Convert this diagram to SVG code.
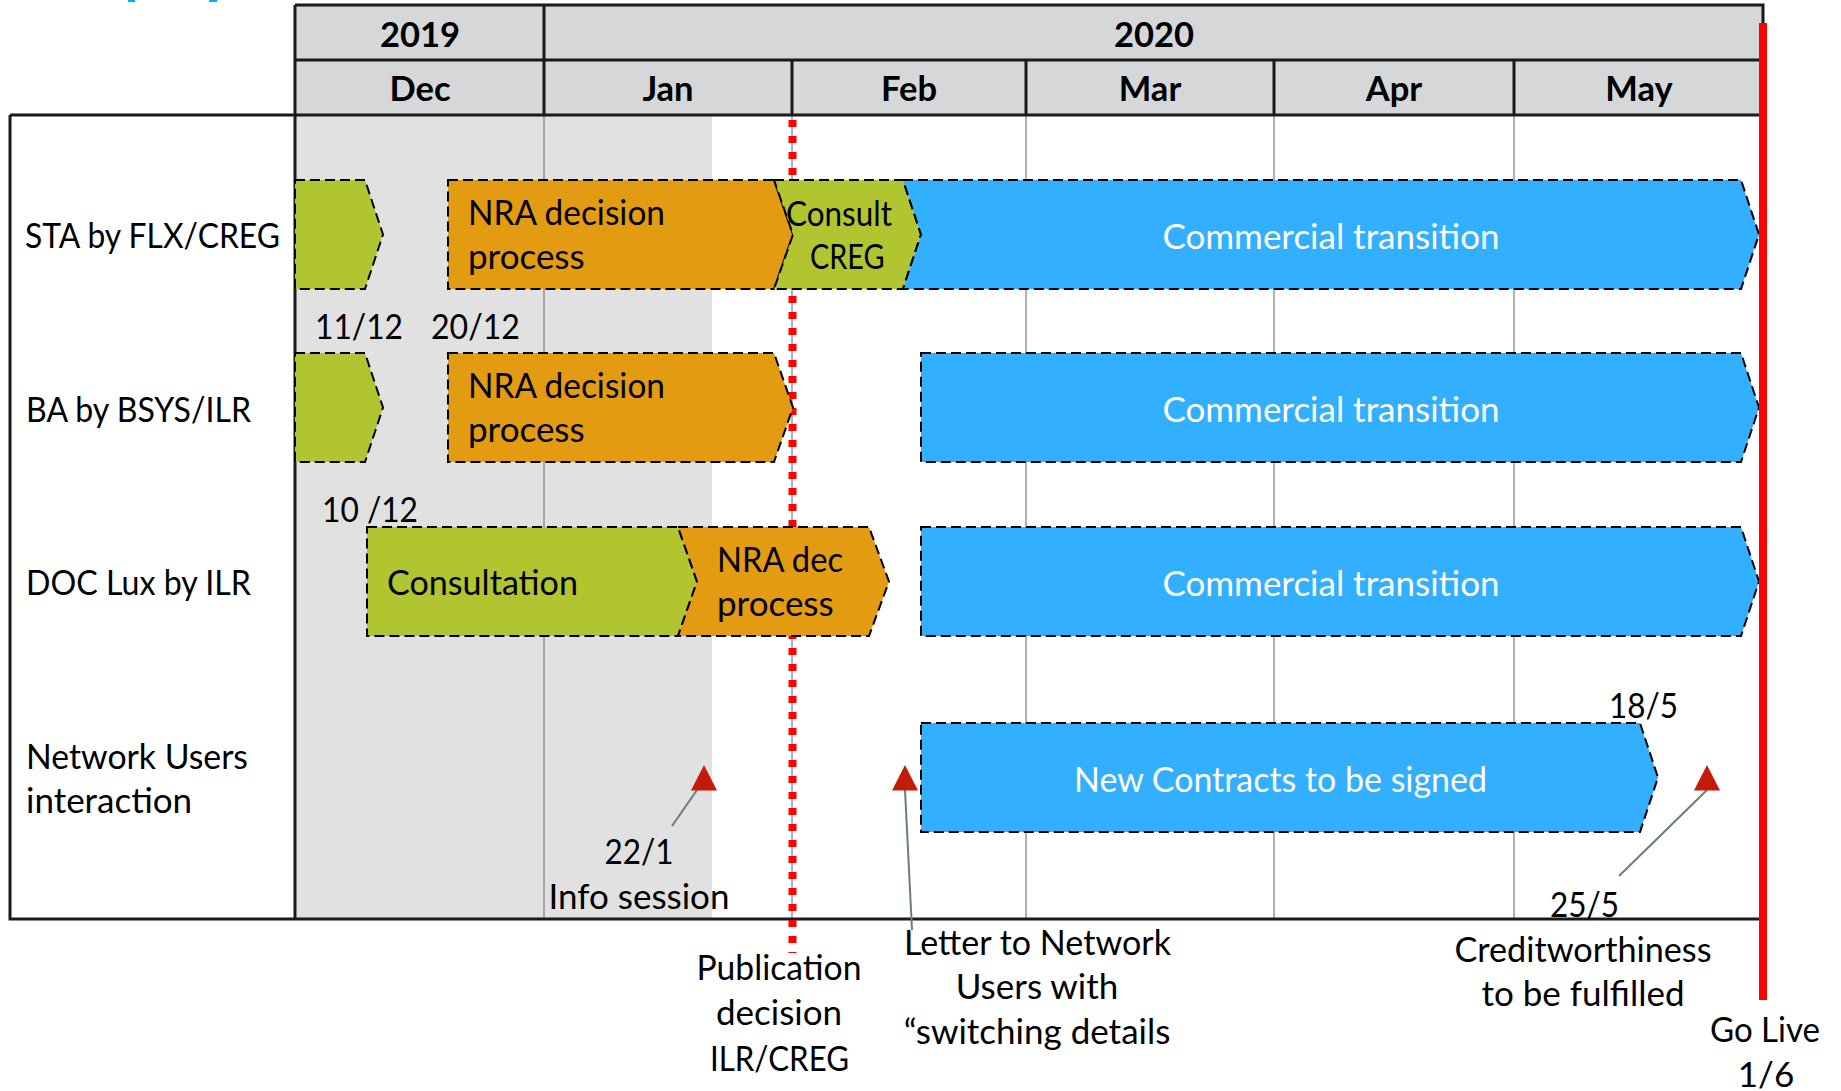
<svg xmlns="http://www.w3.org/2000/svg" width="1841" height="1091" viewBox="0 0 1841 1091">
<style>
text{font-family:Lato,"Liberation Sans",sans-serif;font-size:35px;fill:#000}
.hd{font-weight:bold;text-anchor:middle;font-size:34.5px}
.m{text-anchor:middle}
.w{fill:#fff}
.bar{stroke:#000;stroke-width:2;stroke-dasharray:10 5}
.g{fill:#B0C530}
.o{fill:#E39B12}
.b{fill:#32B0FF}
.grid{stroke:#7f7f7f;stroke-width:1.2}
.frame{stroke:#1a1a1a;stroke-width:3;fill:none}
.lead{stroke:#6B7D78;stroke-width:2}
.tri{fill:#C41A0A}
</style>
<g id="background">
<rect x="0" y="0" width="1841" height="1091" fill="#fff"/>
<rect x="128" y="0" width="7" height="2" fill="#00B0F0"/>
<rect x="209" y="0" width="8" height="2" fill="#00B0F0"/>
<rect x="295" y="115" width="417" height="804" fill="#E1E1E1"/>
</g>
<g id="header">
<rect x="295" y="5" width="1468" height="110" fill="#D6D7D9"/>
<path class="frame" d="M295,5 H1763 V115 M295,60 H1763 M544,5 V115 M792,60 V115 M1026,60 V115 M1274,60 V115 M1514,60 V115"/>
<text class="hd" x="420" y="47">2019</text>
<text class="hd" x="1154" y="47">2020</text>
<text class="hd" x="420" y="101">Dec</text>
<text class="hd" x="668" y="101">Jan</text>
<text class="hd" x="909" y="101">Feb</text>
<text class="hd" x="1150" y="101">Mar</text>
<text class="hd" x="1394" y="101">Apr</text>
<text class="hd" x="1639" y="101">May</text>
</g>
<g id="grid">
<path class="grid" d="M544,115 V919 M792,115 V919 M1026,115 V919 M1274,115 V919 M1514,115 V919"/>
<path class="frame" d="M10,115 H1763 M10,115 V919 H1763 M295,5 V919"/>
</g>
<g id="publication-line">
<line x1="792.5" y1="120" x2="792.5" y2="953" stroke="#FF0000" stroke-width="8" stroke-dasharray="7 9"/>
</g>
<g id="row-labels">
<text x="25" y="247.5" textLength="255" lengthAdjust="spacingAndGlyphs">STA by FLX/CREG</text>
<text x="26" y="421.5" textLength="225" lengthAdjust="spacingAndGlyphs">BA by BSYS/ILR</text>
<text x="26" y="594.5" textLength="225" lengthAdjust="spacingAndGlyphs">DOC Lux by ILR</text>
<text x="26" y="768.5" textLength="222" lengthAdjust="spacingAndGlyphs">Network Users</text>
<text x="26" y="812.5">interaction</text>
</g>
<g id="sta-pre"><path class="bar g" d="M295,180 H365 L383,234.5 L365,289 H295 Z"/></g>
<g id="sta-nra"><path class="bar o" d="M448,180 H774 L793,234.5 L774,289 H448 Z"/>
<text x="468" y="224.5" textLength="197" lengthAdjust="spacingAndGlyphs">NRA decision</text><text x="468" y="268.5">process</text></g>
<g id="sta-consult"><path class="bar g" d="M774,180 H903 L921,234.5 L903,289 H774 L793,234.5 Z"/>
<text x="786" y="225.5" textLength="106" lengthAdjust="spacingAndGlyphs">Consult</text><text x="810" y="268.5" textLength="74.5" lengthAdjust="spacingAndGlyphs">CREG</text></g>
<g id="sta-commercial"><path class="bar b" d="M903,180 H1741 L1759,234.5 L1741,289 H903 L921,234.5 Z"/>
<text class="m w" x="1331" y="248.5">Commercial transition</text></g>
<g id="ba-pre"><path class="bar g" d="M295,353 H365 L383,407.5 L365,462 H295 Z"/></g>
<g id="ba-nra"><path class="bar o" d="M448,353 H774 L793,407.5 L774,462 H448 Z"/>
<text x="468" y="397.5" textLength="197" lengthAdjust="spacingAndGlyphs">NRA decision</text><text x="468" y="441.5">process</text></g>
<g id="ba-commercial"><path class="bar b" d="M921,353 H1741 L1759,407.5 L1741,462 H921 Z"/>
<text class="m w" x="1331" y="421.5">Commercial transition</text></g>
<g id="doc-consultation"><path class="bar g" d="M367,527 H678 L697,581.5 L678,636 H367 Z"/>
<text x="387" y="594.5" textLength="191" lengthAdjust="spacingAndGlyphs">Consultation</text></g>
<g id="doc-nra"><path class="bar o" d="M678,527 H869 L889,581.5 L869,636 H678 L697,581.5 Z"/>
<text x="717" y="571.5" textLength="126" lengthAdjust="spacingAndGlyphs">NRA dec</text><text x="717" y="615.5">process</text></g>
<g id="doc-commercial"><path class="bar b" d="M921,527 H1741 L1759,581.5 L1741,636 H921 Z"/>
<text class="m w" x="1331" y="595.5">Commercial transition</text></g>
<g id="contracts"><path class="bar b" d="M921,723 H1640 L1658,777.5 L1640,832 H921 Z"/>
<text class="w" x="1074" y="791.5" textLength="413" lengthAdjust="spacingAndGlyphs">New Contracts to be signed</text></g>
<g id="dates">
<text x="315" y="338.5" textLength="88" lengthAdjust="spacingAndGlyphs">11/12</text>
<text x="431" y="338.5" textLength="89" lengthAdjust="spacingAndGlyphs">20/12</text>
<text x="322" y="522" textLength="96" lengthAdjust="spacingAndGlyphs">10 /12</text>
<text x="1609" y="718" textLength="69" lengthAdjust="spacingAndGlyphs">18/5</text>
</g>
<g id="connectors">
<line class="lead" x1="697" y1="790" x2="672" y2="826"/>
<line class="lead" x1="905" y1="790" x2="912" y2="930"/>
<line class="lead" x1="1707" y1="790" x2="1619" y2="876"/>
<line x1="1763" y1="23" x2="1763" y2="1000" stroke="#FF0000" stroke-width="8"/>
</g>
<g id="info-session"><path class="tri" d="M704,765 L691,790.5 H717 Z"/>
<text x="604.5" y="863.5" textLength="69" lengthAdjust="spacingAndGlyphs">22/1</text><text class="m" x="639" y="908.5">Info session</text></g>
<g id="letter"><path class="tri" d="M905,765 L892,790.5 H918 Z"/>
<text x="904" y="954.5" textLength="267" lengthAdjust="spacingAndGlyphs">Letter to Network</text><text class="m" x="1037" y="998.5">Users with</text><text class="m" x="1037" y="1043.5">“switching details</text></g>
<g id="creditworthiness"><path class="tri" d="M1707,765 L1694,790.5 H1720 Z"/>
<text x="1550" y="916.5" textLength="69" lengthAdjust="spacingAndGlyphs">25/5</text><text x="1454.5" y="961.5" textLength="257" lengthAdjust="spacingAndGlyphs">Creditworthiness</text><text class="m" x="1583" y="1005.5">to be fulfilled</text></g>
<g id="publication">
<text x="696.5" y="979.5" textLength="165" lengthAdjust="spacingAndGlyphs">Publication</text><text class="m" x="779" y="1024.5">decision</text><text x="710" y="1070.5" textLength="139" lengthAdjust="spacingAndGlyphs">ILR/CREG</text></g>
<g id="go-live">
<text x="1710" y="1041.5" textLength="110" lengthAdjust="spacingAndGlyphs">Go Live</text><text class="m" x="1766" y="1086.5">1/6</text></g>
</svg>
